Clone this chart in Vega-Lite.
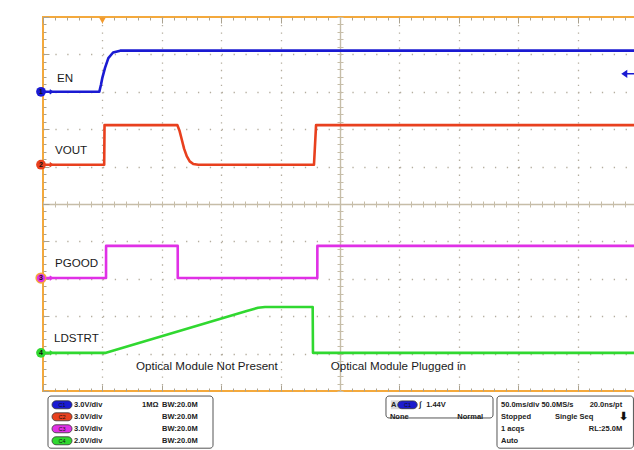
{
  "$schema": "https://vega.github.io/schema/vega-lite/v6.json",
  "background": "white",
  "padding": {"left": 32, "top": 15, "right": 0, "bottom": 0},
  "bounds": "flush",
  "spacing": 3,
  "config": {
    "view": {"stroke": null},
    "font": "Liberation Sans",
    "axis": {"grid": false, "labels": false, "domain": false, "ticks": false, "tickColor": "#aaa290", "tickWidth": 1, "domainColor": "#c6bda8", "domainWidth": 1.4, "gridColor": "#b4ad9e", "gridWidth": 1.3}
  },
  "datasets": {
    "traces": [
      {"ch": "EN", "i": 1, "t": 0, "v": 8.0},
      {"ch": "EN", "i": 2, "t": 0.948, "v": 8.0},
      {"ch": "EN", "i": 3, "t": 0.975, "v": 8.18},
      {"ch": "EN", "i": 4, "t": 1.0, "v": 8.38},
      {"ch": "EN", "i": 5, "t": 1.044, "v": 8.64},
      {"ch": "EN", "i": 6, "t": 1.1, "v": 8.9},
      {"ch": "EN", "i": 7, "t": 1.18, "v": 9.05},
      {"ch": "EN", "i": 8, "t": 1.3, "v": 9.1},
      {"ch": "EN", "i": 9, "t": 10, "v": 9.1},
      {"ch": "VOUT", "i": 1, "t": 0, "v": 6.05},
      {"ch": "VOUT", "i": 2, "t": 1.03, "v": 6.05},
      {"ch": "VOUT", "i": 3, "t": 1.036, "v": 7.11},
      {"ch": "VOUT", "i": 4, "t": 2.261, "v": 7.11},
      {"ch": "VOUT", "i": 5, "t": 2.3, "v": 6.95},
      {"ch": "VOUT", "i": 6, "t": 2.335, "v": 6.73},
      {"ch": "VOUT", "i": 7, "t": 2.375, "v": 6.48},
      {"ch": "VOUT", "i": 8, "t": 2.42, "v": 6.28},
      {"ch": "VOUT", "i": 9, "t": 2.47, "v": 6.14},
      {"ch": "VOUT", "i": 10, "t": 2.53, "v": 6.07},
      {"ch": "VOUT", "i": 11, "t": 2.615, "v": 6.05},
      {"ch": "VOUT", "i": 12, "t": 4.562, "v": 6.05},
      {"ch": "VOUT", "i": 13, "t": 4.597, "v": 7.11},
      {"ch": "VOUT", "i": 14, "t": 10, "v": 7.11},
      {"ch": "PGOOD", "i": 1, "t": 0, "v": 3.02},
      {"ch": "PGOOD", "i": 2, "t": 1.061, "v": 3.02},
      {"ch": "PGOOD", "i": 3, "t": 1.062, "v": 3.88},
      {"ch": "PGOOD", "i": 4, "t": 2.268, "v": 3.88},
      {"ch": "PGOOD", "i": 5, "t": 2.269, "v": 3.02},
      {"ch": "PGOOD", "i": 6, "t": 4.618, "v": 3.02},
      {"ch": "PGOOD", "i": 7, "t": 4.619, "v": 3.88},
      {"ch": "PGOOD", "i": 8, "t": 10, "v": 3.88},
      {"ch": "LDSTRT", "i": 1, "t": 0, "v": 1.02},
      {"ch": "LDSTRT", "i": 2, "t": 1.061, "v": 1.02},
      {"ch": "LDSTRT", "i": 3, "t": 3.429, "v": 2.14},
      {"ch": "LDSTRT", "i": 4, "t": 3.52, "v": 2.18},
      {"ch": "LDSTRT", "i": 5, "t": 3.62, "v": 2.225},
      {"ch": "LDSTRT", "i": 6, "t": 3.737, "v": 2.246},
      {"ch": "LDSTRT", "i": 7, "t": 4.54, "v": 2.246},
      {"ch": "LDSTRT", "i": 8, "t": 4.545, "v": 1.02},
      {"ch": "LDSTRT", "i": 9, "t": 10, "v": 1.02}
    ],
    "markers": [
      {"ch": "EN", "num": "1", "v0": 8.0},
      {"ch": "VOUT", "num": "2", "v0": 6.05},
      {"ch": "PGOOD", "num": "3", "v0": 3.02},
      {"ch": "LDSTRT", "num": "4", "v0": 1.02}
    ],
    "chanLabels": [
      {"lbl": "EN", "x": 0.236, "y": 8.34},
      {"lbl": "VOUT", "x": 0.202, "y": 6.42},
      {"lbl": "PGOOD", "x": 0.202, "y": 3.4},
      {"lbl": "LDSTRT", "x": 0.185, "y": 1.38}
    ],
    "notes": [
      {"lbl": "Optical Module Not Present", "x": 1.566, "y": 0.64},
      {"lbl": "Optical Module Plugged in", "x": 4.843, "y": 0.63}
    ],
    "trigger": [{"t": 1.0, "v": 10}],
    "level": [{"src": "EN", "v": 8.48}],
    "boxes": [
      {"box": "channels", "x1": 0.084, "x2": 2.862, "y1": 0.27, "y2": 4.62},
      {"box": "trigger", "x1": 5.774, "x2": 7.576, "y1": 0.27, "y2": 2.1},
      {"box": "timebase", "x1": 7.643, "x2": 9.94, "y1": 0.27, "y2": 4.62}
    ],
    "channels": [
      {"ch": "C1", "row": 1, "vdiv": "3.0V/div", "imp": "1MΩ", "bw": "BW:20.0M"},
      {"ch": "C2", "row": 2, "vdiv": "3.0V/div", "imp": "", "bw": "BW:20.0M"},
      {"ch": "C3", "row": 3, "vdiv": "3.0V/div", "imp": "", "bw": "BW:20.0M"},
      {"ch": "C4", "row": 4, "vdiv": "2.0V/div", "imp": "", "bw": "BW:20.0M"}
    ],
    "trigSrc": [{"ch": "C1", "row": 1}],
    "trigSlot": [{"slot": "A", "row": 1}],
    "readoutLeft": [
      {"txt": "A", "col": 5.86, "row": 1},
      {"txt": "∫", "col": 6.33, "row": 1},
      {"txt": "1.44V", "col": 6.45, "row": 1},
      {"txt": "None", "col": 5.84, "row": 2},
      {"txt": "50.0ms/div 50.0MS/s", "col": 7.71, "row": 1},
      {"txt": "Stopped", "col": 7.71, "row": 2},
      {"txt": "Single Seq", "col": 8.62, "row": 2},
      {"txt": "1 acqs", "col": 7.71, "row": 3},
      {"txt": "Auto", "col": 7.71, "row": 4}
    ],
    "readoutRight": [
      {"txt": "Normal", "col": 7.41, "row": 2},
      {"txt": "20.0ns/pt", "col": 9.75, "row": 1},
      {"txt": "RL:25.0M", "col": 9.75, "row": 3}
    ],
    "state": [{"txt": "⬇", "col": 9.77, "row": 2}]
  },
  "vconcat": [
    {
      "width": 594,
      "height": 374,
      "view": {"stroke": "#f4a93c", "strokeWidth": 2},
      "resolve": {"axis": {"x": "independent", "y": "independent"}},
      "layer": [
        {
          "data": {"name": "traces"},
          "mark": {"type": "line", "strokeWidth": 2.6, "strokeJoin": "round"},
          "encoding": {
            "x": {"field": "t", "type": "quantitative", "scale": {"domain": [0, 10]}, "title": null,
                  "axis": {"orient": "bottom", "values": [1, 2, 3, 4, 6, 7, 8, 9], "grid": true, "gridDash": [1.3, 6.18]}},
            "y": {"field": "v", "type": "quantitative", "scale": {"domain": [0, 10]}, "title": null,
                  "axis": {"orient": "left", "values": [1, 2, 3, 4, 6, 7, 8, 9], "grid": true, "gridDash": [1.3, 10.58]}},
            "color": {"field": "ch", "type": "nominal", "legend": null,
                      "scale": {"domain": ["EN", "VOUT", "PGOOD", "LDSTRT"], "range": ["#1a1ad2", "#e8401e", "#e030e6", "#30d830"]}},
            "order": {"field": "i", "type": "quantitative"}
          }
        },
        {
          "data": {"name": "chanLabels"},
          "mark": {"type": "text", "align": "left", "baseline": "middle", "fontSize": 11.6, "color": "#1a1a1a"},
          "encoding": {
            "x": {"field": "x", "type": "quantitative", "scale": {"domain": [0, 10]}, "title": null,
                  "axis": {"orient": "bottom", "offset": -187, "domain": true, "ticks": true, "tickCount": 50, "tickSize": 3, "tickColor": "#c6bda8"}},
            "y": {"field": "y", "type": "quantitative", "scale": {"domain": [0, 10]}, "title": null,
                  "axis": {"orient": "left", "offset": -297, "domain": true, "ticks": true, "tickCount": 50, "tickSize": 3, "tickColor": "#c6bda8"}},
            "text": {"field": "lbl"}
          }
        },
        {
          "data": {"name": "notes"},
          "mark": {"type": "text", "align": "left", "baseline": "middle", "fontSize": 11.6, "color": "#1a1a1a"},
          "encoding": {
            "x": {"field": "x", "type": "quantitative", "scale": {"domain": [0, 10]}, "title": null,
                  "axis": {"orient": "top", "offset": -187, "ticks": true, "tickCount": 50, "tickSize": 3, "tickColor": "#c6bda8"}},
            "y": {"field": "y", "type": "quantitative", "scale": {"domain": [0, 10]}, "title": null,
                  "axis": {"orient": "right", "offset": -297, "ticks": true, "tickCount": 50, "tickSize": 3, "tickColor": "#c6bda8"}},
            "text": {"field": "lbl"}
          }
        },
        {
          "data": {"name": "markers"},
          "mark": {"type": "point", "shape": "circle", "filled": true, "size": 95, "xOffset": -2, "opacity": 1, "strokeWidth": 1.5},
          "encoding": {
            "x": {"datum": 0, "type": "quantitative", "scale": {"domain": [0, 10]}, "title": null,
                  "axis": {"orient": "bottom", "offset": -3, "ticks": true, "tickCount": 50, "tickSize": 3}},
            "y": {"field": "v0", "type": "quantitative", "scale": {"domain": [0, 10]}, "title": null,
                  "axis": {"orient": "left", "offset": -3, "ticks": true, "tickCount": 50, "tickSize": 3}},
            "color": {"field": "ch", "type": "nominal", "legend": null,
                      "scale": {"domain": ["EN", "VOUT", "PGOOD", "LDSTRT"], "range": ["#1a1ad2", "#e8401e", "#e030e6", "#30d830"]}},
            "stroke": {"condition": {"test": "datum.ch === 'PGOOD'", "value": "#f4a93c"}, "value": "transparent"}
          }
        },
        {
          "data": {"name": "markers"},
          "mark": {"type": "text", "fontSize": 7, "fontWeight": "bold", "xOffset": -2, "baseline": "middle", "align": "center", "color": "#111111"},
          "encoding": {
            "x": {"datum": 0, "type": "quantitative", "scale": {"domain": [0, 10]}, "title": null,
                  "axis": {"orient": "bottom", "offset": -6, "ticks": true, "tickCount": 10, "tickSize": 6}},
            "y": {"field": "v0", "type": "quantitative", "scale": {"domain": [0, 10]}, "title": null,
                  "axis": {"orient": "left", "offset": -6, "ticks": true, "tickCount": 10, "tickSize": 6}},
            "text": {"field": "num"}
          }
        },
        {
          "data": {"name": "markers"},
          "mark": {"type": "point", "shape": "M-1,0 L1,0 M0.2,-0.6 L1,0 L0.2,0.6", "filled": false, "size": 49, "xOffset": 6, "strokeWidth": 1.3, "opacity": 1},
          "encoding": {
            "x": {"datum": 0, "type": "quantitative", "scale": {"domain": [0, 10]}, "title": null,
                  "axis": {"orient": "top", "offset": -3, "ticks": true, "tickCount": 50, "tickSize": 3}},
            "y": {"field": "v0", "type": "quantitative", "scale": {"domain": [0, 10]}, "axis": null},
            "color": {"field": "ch", "type": "nominal", "legend": null,
                      "scale": {"domain": ["EN", "VOUT", "PGOOD", "LDSTRT"], "range": ["#1a1ad2", "#e8401e", "#e030e6", "#30d830"]}}
          }
        },
        {
          "data": {"name": "trigger"},
          "mark": {"type": "point", "shape": "triangle-down", "filled": true, "size": 45, "yOffset": 3.5, "color": "#f39a2c", "opacity": 1},
          "encoding": {
            "x": {"field": "t", "type": "quantitative", "scale": {"domain": [0, 10]}, "title": null,
                  "axis": {"orient": "top", "offset": -6, "ticks": true, "tickCount": 10, "tickSize": 6}},
            "y": {"field": "v", "type": "quantitative", "scale": {"domain": [0, 10]}, "axis": null}
          }
        },
        {
          "data": {"name": "level"},
          "mark": {"type": "point", "shape": "M-1,0 L-0.35,-0.45 L-0.35,0.45 Z M-0.35,0 L1,0", "filled": true, "size": 150, "strokeWidth": 1.5, "color": "#1a1ad2", "stroke": "#1a1ad2", "opacity": 1},
          "encoding": {
            "x": {"datum": 9.86, "type": "quantitative", "scale": {"domain": [0, 10]}, "axis": null},
            "y": {"field": "v", "type": "quantitative", "scale": {"domain": [0, 10]}, "axis": null}
          }
        }
      ]
    },
    {
      "width": 594,
      "height": 56,
      "view": {"stroke": null},
      "layer": [
        {
          "data": {"name": "boxes"},
          "mark": {"type": "rect", "fill": "white", "stroke": "#555555", "strokeWidth": 1, "cornerRadius": 3},
          "encoding": {
            "x": {"field": "x1", "type": "quantitative", "scale": {"domain": [0, 10]}, "axis": null},
            "x2": {"field": "x2"},
            "y": {"field": "y1", "type": "quantitative", "scale": {"domain": [0.1, 4.77], "reverse": true}, "axis": null},
            "y2": {"field": "y2"}
          }
        },
        {
          "data": {"name": "trigSlot"},
          "mark": {"type": "point", "shape": "square", "filled": true, "size": 80, "color": "#d8d8d8", "opacity": 1},
          "encoding": {
            "x": {"datum": 5.93, "type": "quantitative", "scale": {"domain": [0, 10]}, "axis": null},
            "y": {"field": "row", "type": "quantitative", "scale": {"domain": [0.1, 4.77], "reverse": true}, "axis": null}
          }
        },
        {
          "data": {"name": "channels"},
          "mark": {"type": "point", "shape": "M-0.6,-0.4 L0.6,-0.4 A0.4,0.4 0 0 1 0.6,0.4 L-0.6,0.4 A0.4,0.4 0 0 1 -0.6,-0.4 Z", "filled": true, "size": 400, "stroke": "#333333", "strokeWidth": 0.8, "opacity": 1},
          "encoding": {
            "x": {"datum": 0.32, "type": "quantitative", "scale": {"domain": [0, 10]}, "axis": null},
            "y": {"field": "row", "type": "quantitative", "scale": {"domain": [0.1, 4.77], "reverse": true}, "axis": null},
            "color": {"field": "ch", "type": "nominal", "legend": null,
                      "scale": {"domain": ["C1", "C2", "C3", "C4"], "range": ["#1c1ccc", "#c83c20", "#d030d0", "#30c030"]}}
          }
        },
        {
          "data": {"name": "channels"},
          "mark": {"type": "text", "fontSize": 5.5, "align": "center", "baseline": "middle", "color": "#111111"},
          "encoding": {
            "x": {"datum": 0.32, "type": "quantitative", "scale": {"domain": [0, 10]}, "axis": null},
            "y": {"field": "row", "type": "quantitative", "scale": {"domain": [0.1, 4.77], "reverse": true}, "axis": null},
            "text": {"field": "ch"}
          }
        },
        {
          "data": {"name": "channels"},
          "mark": {"type": "text", "fontWeight": "bold", "fontSize": 7.5, "align": "left", "baseline": "middle", "color": "#222222"},
          "encoding": {
            "x": {"datum": 0.522, "type": "quantitative", "scale": {"domain": [0, 10]}, "axis": null},
            "y": {"field": "row", "type": "quantitative", "scale": {"domain": [0.1, 4.77], "reverse": true}, "axis": null},
            "text": {"field": "vdiv"}
          }
        },
        {
          "data": {"name": "channels"},
          "mark": {"type": "text", "fontWeight": "bold", "fontSize": 7.5, "align": "left", "baseline": "middle", "color": "#222222"},
          "encoding": {
            "x": {"datum": 1.667, "type": "quantitative", "scale": {"domain": [0, 10]}, "axis": null},
            "y": {"field": "row", "type": "quantitative", "scale": {"domain": [0.1, 4.77], "reverse": true}, "axis": null},
            "text": {"field": "imp"}
          }
        },
        {
          "data": {"name": "channels"},
          "mark": {"type": "text", "fontWeight": "bold", "fontSize": 7.5, "align": "left", "baseline": "middle", "color": "#222222"},
          "encoding": {
            "x": {"datum": 2.003, "type": "quantitative", "scale": {"domain": [0, 10]}, "axis": null},
            "y": {"field": "row", "type": "quantitative", "scale": {"domain": [0.1, 4.77], "reverse": true}, "axis": null},
            "text": {"field": "bw"}
          }
        },
        {
          "data": {"name": "trigSrc"},
          "mark": {"type": "point", "shape": "M-0.6,-0.4 L0.6,-0.4 A0.4,0.4 0 0 1 0.6,0.4 L-0.6,0.4 A0.4,0.4 0 0 1 -0.6,-0.4 Z", "filled": true, "size": 380, "stroke": "#333333", "strokeWidth": 0.8, "opacity": 1, "color": "#1c1ccc"},
          "encoding": {
            "x": {"datum": 6.136, "type": "quantitative", "scale": {"domain": [0, 10]}, "axis": null},
            "y": {"field": "row", "type": "quantitative", "scale": {"domain": [0.1, 4.77], "reverse": true}, "axis": null}
          }
        },
        {
          "data": {"name": "trigSrc"},
          "mark": {"type": "text", "fontSize": 5.5, "align": "center", "baseline": "middle", "color": "#111111"},
          "encoding": {
            "x": {"datum": 6.136, "type": "quantitative", "scale": {"domain": [0, 10]}, "axis": null},
            "y": {"field": "row", "type": "quantitative", "scale": {"domain": [0.1, 4.77], "reverse": true}, "axis": null},
            "text": {"field": "ch"}
          }
        },
        {
          "data": {"name": "readoutLeft"},
          "mark": {"type": "text", "fontWeight": "bold", "fontSize": 7.5, "align": "left", "baseline": "middle", "color": "#222222"},
          "encoding": {
            "x": {"field": "col", "type": "quantitative", "scale": {"domain": [0, 10]}, "axis": null},
            "y": {"field": "row", "type": "quantitative", "scale": {"domain": [0.1, 4.77], "reverse": true}, "axis": null},
            "text": {"field": "txt"}
          }
        },
        {
          "data": {"name": "readoutRight"},
          "mark": {"type": "text", "fontWeight": "bold", "fontSize": 7.5, "align": "right", "baseline": "middle", "color": "#222222"},
          "encoding": {
            "x": {"field": "col", "type": "quantitative", "scale": {"domain": [0, 10]}, "axis": null},
            "y": {"field": "row", "type": "quantitative", "scale": {"domain": [0.1, 4.77], "reverse": true}, "axis": null},
            "text": {"field": "txt"}
          }
        },
        {
          "data": {"name": "state"},
          "mark": {"type": "text", "fontWeight": "bold", "fontSize": 11, "align": "center", "baseline": "middle", "color": "#111111"},
          "encoding": {
            "x": {"field": "col", "type": "quantitative", "scale": {"domain": [0, 10]}, "axis": null},
            "y": {"field": "row", "type": "quantitative", "scale": {"domain": [0.1, 4.77], "reverse": true}, "axis": null},
            "text": {"field": "txt"}
          }
        }
      ]
    }
  ]
}
